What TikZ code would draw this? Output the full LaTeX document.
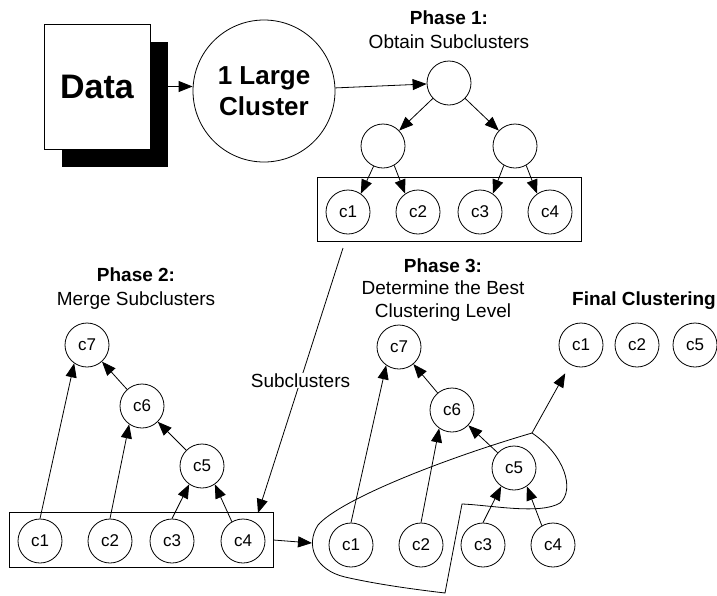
\documentclass[tikz,border=0pt]{standalone}
\usepackage{fontspec}
\setmainfont{Liberation Sans}
\usetikzlibrary{positioning,arrows.meta}

\begin{document}
\begin{tikzpicture}[x=1pt, y=-1pt, line width=0.8pt,
    every node/.style={inner sep=2pt},
    clus/.style={draw, circle, minimum size=44pt, inner sep=0pt, font=\fontsize{17}{20}\selectfont},
    title/.style={align=center, font=\fontsize{19}{24}\selectfont},
    arr/.style={-{Triangle[length=14pt,width=11pt]}}]
    \useasboundingbox (0,0) rectangle (717,595);

    % data and the large cluster
    \node (shadow) [fill, minimum width=106pt, minimum height=125pt] at (115,104.5) {};
    \node (data) [draw, fill=white, minimum width=106pt, minimum height=125pt, font=\fontsize{34}{40}\selectfont\bfseries] at (97,86.5) {Data};
    \node (big) [draw, circle, minimum size=142pt, inner sep=0pt, align=center, font=\fontsize{26}{31}\selectfont\bfseries] at (264,91) {1 Large\\Cluster};

    % phase 1
    \node (ph1) [title] at (449,30) {\textbf{Phase 1:}\\Obtain Subclusters};
    \node (root)  [clus] at (449,83) {};
    \node (left)  [clus] at (383,146) {};
    \node (right) [clus] at (515,146) {};
    \node (box1) [draw, minimum width=264pt, minimum height=64pt] at (449,209) {};
    \node (p1c1) [clus] at (348,212) {c1};
    \node (p1c2) [clus] at (418,212) {c2};
    \node (p1c3) [clus] at (480,212) {c3};
    \node (p1c4) [clus] at (550,212) {c4};

    % phase 2
    \node (ph2) [title] at (136,289) {\textbf{Phase 2:}\\Merge Subclusters};
    \node (box2) [draw, minimum width=264pt, minimum height=55pt] at (141,540) {};
    \node (p2c1) [clus] at (40,541) {c1};
    \node (p2c2) [clus] at (110,541) {c2};
    \node (p2c3) [clus] at (172,541) {c3};
    \node (p2c4) [clus] at (243,541) {c4};
    \node (p2c5) [clus] at (202,466) {c5};
    \node (p2c6) [clus] at (142,406) {c6};
    \node (p2c7) [clus] at (87,345) {c7};

    % phase 3
    \node (ph3) [title, font=\fontsize{19}{22.5}\selectfont] at (443,290) {\textbf{Phase 3:}\\Determine the Best\\Clustering Level};
    \node (p3c1) [clus] at (351,545) {c1};
    \node (p3c2) [clus] at (421,545) {c2};
    \node (p3c3) [clus] at (483,545) {c3};
    \node (p3c4) [clus] at (553,545) {c4};
    \node (p3c5) [clus] at (514,468) {c5};
    \node (p3c6) [clus] at (452,410) {c6};
    \node (p3c7) [clus] at (399,347) {c7};

    % final clustering
    \node (fin) [font=\fontsize{19}{24}\selectfont\bfseries] at (644,301) {Final Clustering};
    \node (f1) [clus] at (581,345) {c1};
    \node (f2) [clus] at (637,345) {c2};
    \node (f5) [clus] at (695,345) {c5};

    % free ends
    \coordinate (subtop) at (343,248);
    \coordinate (subend) at (258,513);
    \coordinate (rleft) at (312,543);
    \coordinate (rtop) at (532,433);

    % edges of phase 1
    \draw[arr] (data.east -| shadow.east) -- (big.west |- data.east);
    \draw[arr] (big) -- (root);
    \draw[arr] (root) -- (left);
    \draw[arr] (root) -- (right);
    \draw[arr] (left.245) -- (p1c1.55);
    \draw[arr] (left.300) -- (p1c2.125);
    \draw[arr] (right.240) -- (p1c3.55);
    \draw[arr] (right.300) -- (p1c4.125);

    % subclusters into phase 2
    \draw[arr] (subtop) -- node[fill=white, inner sep=1pt, font=\fontsize{19}{24}\selectfont] {Subclusters} (subend);

    % edges of phase 2
    \draw[arr] (p2c1.north) -- (p2c7.235);
    \draw[arr] (p2c2.north) -- (p2c6.235);
    \draw[arr] (p2c6) -- (p2c7);
    \draw[arr] (p2c5) -- (p2c6);
    \draw[arr] (p2c3.north) -- (p2c5.235);
    \draw[arr] (p2c4.120) -- (p2c5.305);

    % edges of phase 3
    \draw[arr] (box2.east) -- (rleft);
    \draw[arr] (p3c1.north) -- (p3c7.235);
    \draw[arr] (p3c2.north) -- (p3c6.235);
    \draw[arr] (p3c6) -- (p3c7);
    \draw[arr] (p3c5) -- (p3c6);
    \draw[arr] (p3c3.north) -- (p3c5.235);
    \draw[arr] (p3c4.120) -- (p3c5.305);

    % best level
    \draw (rtop) .. controls (440,460) and (340,500) .. (318,525)
        .. controls (305,545) and (315,570) .. (345,577)
        .. controls (380,585) and (420,590) .. (445,593) -- (462,504)
        .. controls (490,505) and (540,515) .. (560,503)
        .. controls (575,490) and (565,455) .. (rtop) -- cycle;
    \draw[arr, shorten >=10pt] (rtop) -- (f1);
\end{tikzpicture}
\end{document}
